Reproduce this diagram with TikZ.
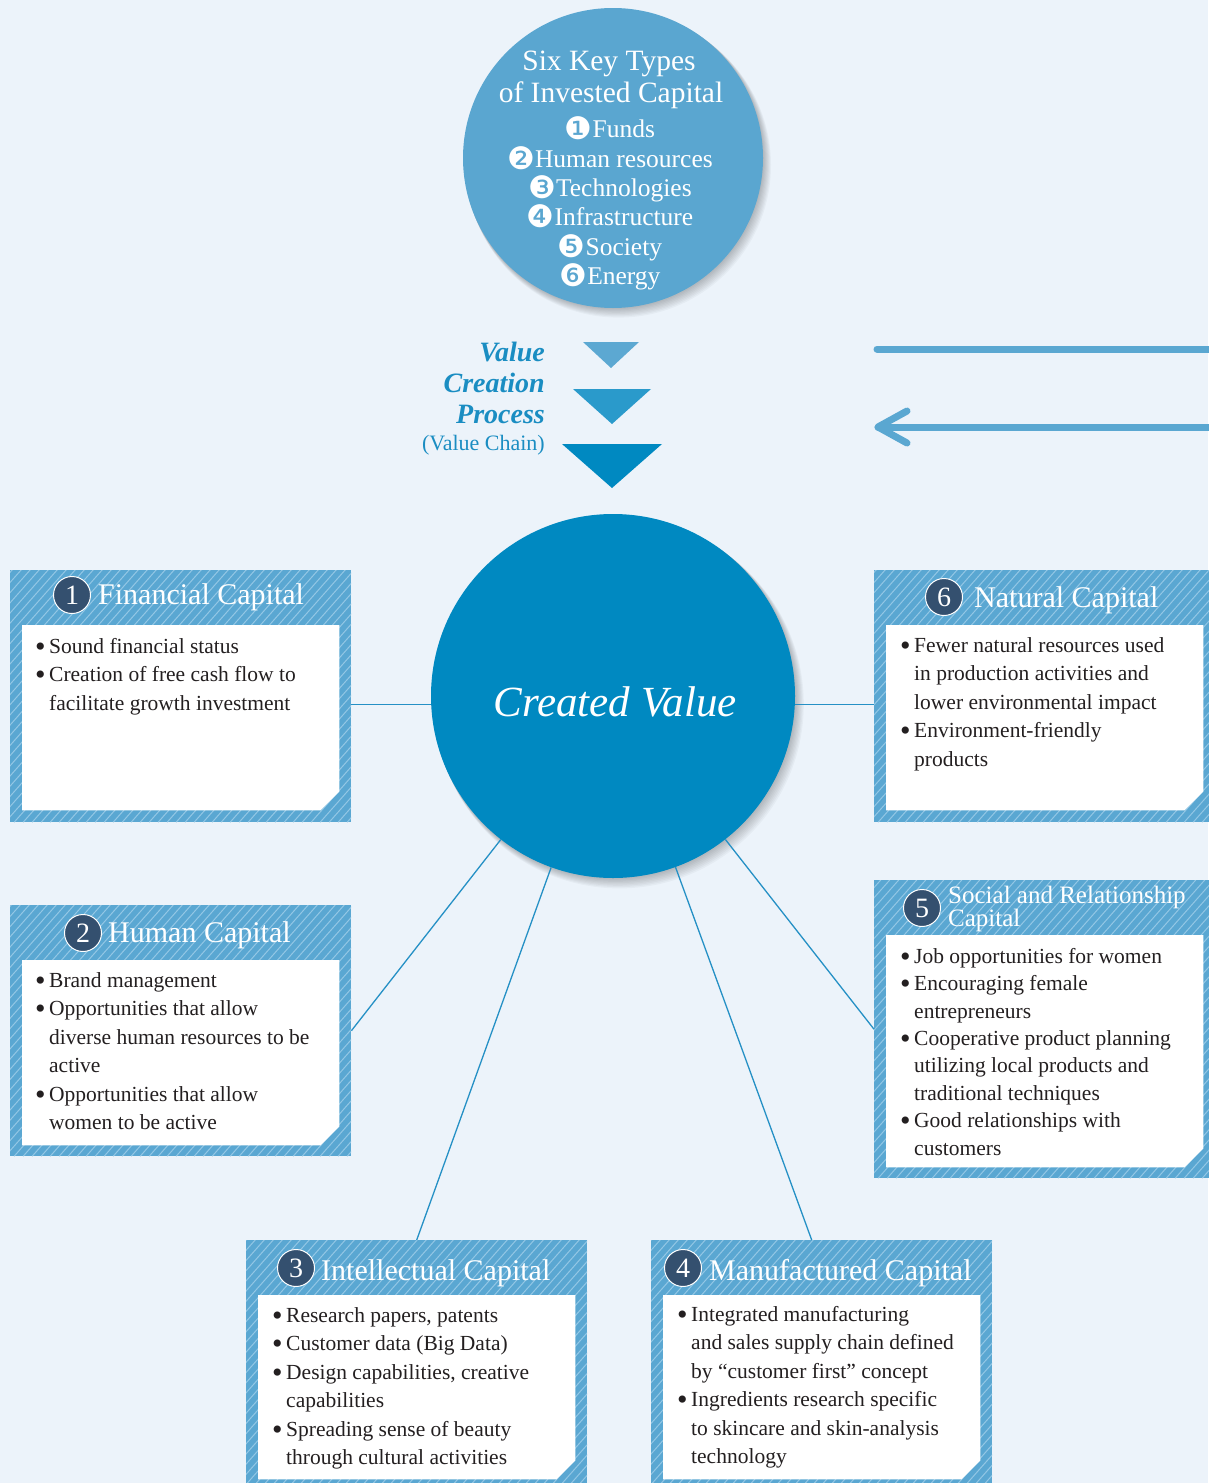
\documentclass[tikz,border=0pt]{standalone}
\usepackage{fontspec}
\setmainfont{Liberation Serif}
\newfontfamily\dejavu{DejaVu Sans}
\usetikzlibrary{calc}
\definecolor{bg}{HTML}{ECF3FA}
\definecolor{topblue}{HTML}{5AA6D0}
\definecolor{boxblue}{HTML}{5AA7D2}
\definecolor{hatchcol}{HTML}{93C7E5}
\definecolor{cvblue}{HTML}{0089C1}
\definecolor{navy}{HTML}{34506F}
\definecolor{linkblue}{HTML}{2590C5}
\definecolor{vcblue}{HTML}{1A8DC2}
\definecolor{triA}{HTML}{5CA8D2}
\definecolor{triB}{HTML}{2A9ACB}
\definecolor{triC}{HTML}{0089C1}
\definecolor{flowcol}{HTML}{5AA7D1}
\definecolor{bodytext}{HTML}{231F20}

\newcommand\bu{\makebox[14pt][l]{\raisebox{-3pt}{\fontsize{30}{30}\selectfont\textbullet}}}
\newcommand\ind{\hspace*{14pt}}
\newcommand\cd[1]{{\raisebox{-2pt}{\dejavu\fontsize{31}{31}\selectfont\color{white}#1}}\hspace{0pt}}
\newcommand\fst{\rule{0pt}{17pt}}

\newcommand\capbox[5]{%
  \node[outerbox, minimum width=341pt, minimum height=#4pt] (#1) at (#2,#3) {};
  \node[innerbox, minimum width=317pt, minimum height=#5pt] (#1in) at (#2+12,#3+55) {};
  \fill[white] (#1in.north west) -- (#1in.north east) -- ([yshift=19pt]#1in.south east)
     -- ([xshift=-19pt]#1in.south east) -- (#1in.south west) -- cycle;
}

\begin{document}
\begin{tikzpicture}[x=1pt,y=-1pt,
  outerbox/.style={draw=none, fill=boxblue, inner sep=0, anchor=north west,
    path picture={\foreach \i in {-320,-311,...,360}
      \draw[hatchcol, line width=1pt] ([xshift=\i pt]path picture bounding box.south west) -- ++(380pt,430pt);}},
  innerbox/.style={inner sep=0, anchor=north west},
  numdisc/.style={circle, fill=navy, draw=white, line width=1pt, minimum size=37pt, inner sep=0,
    text=white, font=\fontsize{28}{28}\selectfont},
  title/.style={anchor=base west, inner sep=0, text=white, font=\fontsize{30}{30}\selectfont},
  body/.style={anchor=north west, inner sep=0, align=left, text=bodytext, font=\fontsize{21.5}{28.5}\selectfont},
  link/.style={draw=linkblue, line width=1.3pt},
  flow/.style={draw=flowcol, line width=7pt, line cap=round, line join=round},
  toptext/.style={anchor=base, inner sep=0, text=white, font=\fontsize{29.5}{29.5}\selectfont},
  item/.style={anchor=base, inner sep=0, text=white, font=\fontsize{25.5}{25.5}\selectfont},
  vc/.style={anchor=base east, inner sep=0, text=vcblue, font=\bfseries\itshape\fontsize{28}{28}\selectfont},
]
\fill[bg] (0,0) rectangle (1208,1483);
\useasboundingbox (0,0) rectangle (1208,1483);

% shadows
\foreach \k in {1,...,8} {
  \fill[black, opacity=0.03] (613+0.7*\k,158+0.9*\k) circle (150+0.3*\k);
  \fill[black, opacity=0.03] (613+0.8*\k,696+1.0*\k) circle (182+0.3*\k);
}

% top circle
\node[circle, fill=topblue, minimum size=300pt, inner sep=0] (inv) at (613,158) {};
\node[toptext] (invt1) at (609,70) {Six Key Types};
\node[toptext] (invt2) at (611,102) {of Invested Capital};
\node[item] (inv1) at (610,137) {\cd{❶}Funds};
\node[item] (inv2) at (610,167) {\cd{❷}Human resources};
\node[item] (inv3) at (610,196) {\cd{❸}Technologies};
\node[item] (inv4) at (610,225) {\cd{❹}Infrastructure};
\node[item] (inv5) at (610,255) {\cd{❺}Society};
\node[item] (inv6) at (610,284) {\cd{❻}Energy};

% value creation process
\node[vc] (vc1) at (545,361) {Value};
\node[vc] (vc2) at (545,392) {Creation};
\node[vc] (vc3) at (545,423) {Process};
\node[anchor=base east, inner sep=0, text=vcblue, font=\fontsize{22}{22}\selectfont] (vc4) at (545,450) {(Value Chain)};
\fill[triA] (583,342) -- (639,342) -- (611,368) -- cycle;
\fill[triB] (573,389) -- (651,389) -- (612,424) -- cycle;
\fill[triC] (562,444) -- (662,444) -- (612,488) -- cycle;

% right flows
\coordinate (fa1) at (877,349);
\coordinate (fa2) at (1220,349);
\coordinate (fb1) at (878,427);
\coordinate (fb2) at (1220,427);
\coordinate (fbu) at (907,411);
\coordinate (fbd) at (907,443);
\draw[flow] (fa1) -- (fa2);
\draw[flow] (fb2) -- (fb1);
\draw[flow] (fbu) -- (fb1) -- (fbd);

% center circle
\node[circle, fill=cvblue, minimum size=364pt, inner sep=0] (cv) at (613,696) {};
\node[anchor=base, inner sep=0, text=white, font=\itshape\fontsize{43}{43}\selectfont] (cvt) at (615,716) {Created Value};

% boxes
\capbox{fin}{10}{570}{252}{185}
\capbox{hum}{10}{905}{251}{185}
\capbox{int}{246}{1240}{260}{184}
\capbox{man}{651}{1240}{260}{184}
\capbox{soc}{874}{880}{298}{232}
\capbox{nat}{874}{570}{252}{185}

% links
\coordinate (finA) at ([yshift=-8pt]fin.east);
\coordinate (natA) at ([yshift=-8pt]nat.west);
\coordinate (manA) at ([xshift=-10pt]man.north);
\draw[link] (finA) -- (finA -| cv.west);
\draw[link] (natA) -- (natA -| cv.east);
\draw[link] (hum.east) -- (cv);
\draw[link] (soc.west) -- (cv);
\draw[link] (int.north) -- (cv);
\draw[link] (manA) -- (cv);

% headers
\node[numdisc] (finn) at (72,595) {1};
\node[title] (fint) at (98,604) {Financial Capital};
\node[numdisc] (humn) at (83,933) {2};
\node[title] (humt) at (108,942) {Human Capital};
\node[numdisc] (intn) at (296,1268) {3};
\node[title] (intt) at (321,1280) {Intellectual Capital};
\node[numdisc] (mann) at (683,1268) {4};
\node[title] (mant) at (709,1280) {Manufactured Capital};
\node[numdisc] (socn) at (922,908) {5};
\node[anchor=north west, inner sep=0, align=left, text=white, font=\fontsize{25}{23}\selectfont] (soct) at (948,886) {\rule{0pt}{17pt}Social and Relationship\\Capital};
\node[numdisc] (natn) at (944,597) {6};
\node[title] (natt) at (974,607) {Natural Capital};

% body texts
\node[body] (finb) at (35,636) {\fst\bu Sound financial status\\
\bu Creation of free cash flow to\\
\ind facilitate growth investment};
\node[body] (humb) at (35,970) {\fst\bu Brand management\\
\bu Opportunities that allow\\
\ind diverse human resources to be\\
\ind active\\
\bu Opportunities that allow\\
\ind women to be active};
\node[body] (intb) at (272,1305) {\fst\bu Research papers, patents\\
\bu Customer data (Big Data)\\
\bu Design capabilities, creative\\
\ind capabilities\\
\bu Spreading sense of beauty\\
\ind through cultural activities};
\node[body] (manb) at (677,1304) {\fst\bu Integrated manufacturing\\
\ind and sales supply chain defined\\
\ind by “customer first” concept\\
\bu Ingredients research specific\\
\ind to skincare and skin-analysis\\
\ind technology};
\node[body, font=\fontsize{21.5}{27.4}\selectfont] (socb) at (900,946) {\fst\bu Job opportunities for women\\
\bu Encouraging female\\
\ind entrepreneurs\\
\bu Cooperative product planning\\
\ind utilizing local products and\\
\ind traditional techniques\\
\bu Good relationships with\\
\ind customers};
\node[body] (natb) at (900,635) {\fst\bu Fewer natural resources used\\
\ind in production activities and\\
\ind lower environmental impact\\
\bu Environment-friendly\\
\ind products};
\end{tikzpicture}
\end{document}
